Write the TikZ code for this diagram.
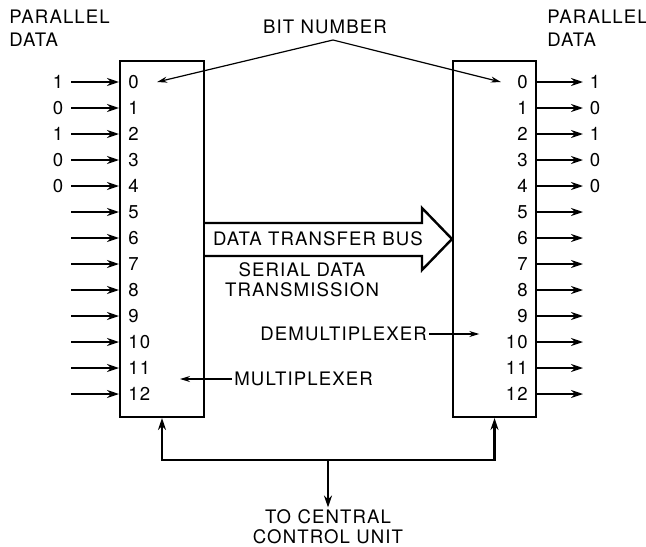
\documentclass[tikz,border=0pt]{standalone}
\usepackage{fontspec}
\setmainfont{TeX Gyre Heros}[LetterSpace=6]
\usetikzlibrary{arrows.meta}

\begin{document}
\begin{tikzpicture}[x=0.5pt,y=-0.5pt,>={Stealth[length=6pt,width=4pt]},
  font=\fontsize{9.3}{11.5}\selectfont,
  box/.style={draw, line width=1pt, inner sep=0pt},
  bitline/.style={line width=1.2pt},
  pointer/.style={line width=0.6pt, >={Stealth[length=5pt,width=3pt]}},
  lbl/.style={inner sep=1pt}]
\useasboundingbox (0,0) rectangle (646,546);

% Multiplexer and demultiplexer boxes
\node[box, minimum width=42pt, minimum height=178pt] (mux) at (162,239) {};
\node[box, minimum width=41.5pt, minimum height=178pt] (demux) at (494.5,239) {};

% Headings
\node[anchor=west, align=left, lbl] (parin) at (7,28) {PARALLEL\\DATA};
\node[anchor=west, align=left, lbl] (parout) at (545,28) {PARALLEL\\DATA};
\node[lbl] (bitnum) at (325,27) {BIT NUMBER};

% Bit numbers and parallel lines
\foreach \i in {0,...,12} {
  \node[anchor=west, lbl] (L\i) at (126,82+26*\i) {\i};
  \node[anchor=east, lbl] (R\i) at (530,82+26*\i) {\i};
  \coordinate (s\i) at (71,82+26*\i);
  \coordinate (e\i) at (583,82+26*\i);
  \draw[bitline, ->] (s\i) -- (mux.west |- s\i);
  \draw[bitline, ->] (demux.east |- e\i) -- (e\i);
}

% Parallel data values
\foreach \i/\v in {0/1,1/0,2/1,3/0,4/0} {
  \node[lbl] (vin\i) at (58,82+26*\i) {\v};
  \node[lbl] (vout\i) at (595,82+26*\i) {\v};
}

% Bit number pointers
\coordinate (peak) at (333,40);
\draw[pointer, ->] (peak) -- ([xshift=8pt]L0.east);
\draw[pointer, ->] (peak) -- ([xshift=-7pt]R0.west);

% Data transfer bus
\draw[line width=1.2pt] (mux.east |- 0,223) -- (422,223) -- (422,208)
  -- (demux.west |- 0,239) -- (422,270) -- (422,256) -- (mux.east |- 0,256);
\node[lbl] (bus) at (318,239) {DATA TRANSFER BUS};
\node[lbl, align=center, font=\fontsize{9.3}{10}\selectfont] (serial) at (302,280) {SERIAL DATA\\TRANSMISSION};

% Box names
\node[anchor=west, lbl] (demuxname) at (258,334) {DEMULTIPLEXER};
\draw[pointer, ->] (demuxname.east) -- ++(50,0);
\node[anchor=west, lbl] (muxname) at (232,379) {MULTIPLEXER};
\draw[pointer, ->] (muxname.west) -- ++(-52,0);

% Control lines
\coordinate (split) at (328,460);
\draw[bitline, <->] (mux.south) -- (mux.south |- split) -- (demux.south |- split) -- (demux.south);
\node[lbl, align=center, font=\fontsize{9.3}{10}\selectfont] (cpu) at (328,527) {TO CENTRAL\\CONTROL UNIT};
\draw[bitline, ->] (split) -- (cpu);

\end{tikzpicture}
\end{document}
